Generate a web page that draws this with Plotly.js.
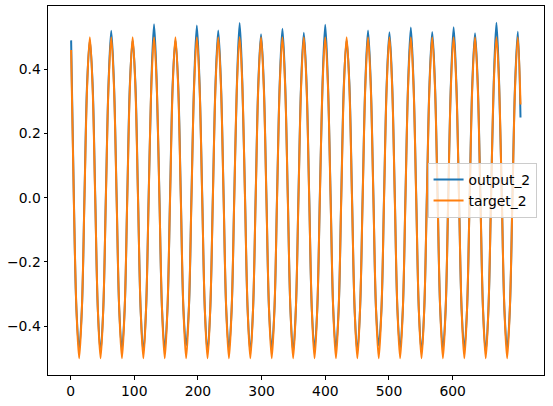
<!DOCTYPE html>
<html>
<head>
<meta charset="utf-8">
<script src="https://cdn.plot.ly/plotly-3.0.1.min.js"></script>
<style>html,body{margin:0;padding:0;background:#fff;}#chart{width:553px;height:406px;}</style>
</head>
<body>
<div id="chart"></div>
<script>
// sample index start and step (x positions of the samples)
const xStart = 0.9;
const xStep = 4.2;

// target_2 (orange) – read at each sample
const target2 = [
  0.46, 0, -0.35, -0.5, -0.35, 0, 0.35, 0.5,
  0.35, 0, -0.35, -0.5, -0.35, 0, 0.35, 0.5,
  0.35, 0, -0.35, -0.5, -0.35, 0, 0.35, 0.5,
  0.35, 0, -0.35, -0.5, -0.35, 0, 0.35, 0.5,
  0.35, 0, -0.35, -0.5, -0.35, 0, 0.35, 0.5,
  0.35, 0, -0.35, -0.5, -0.35, 0, 0.35, 0.5,
  0.35, 0, -0.35, -0.5, -0.35, 0, 0.35, 0.5,
  0.35, 0, -0.35, -0.5, -0.35, 0, 0.35, 0.5,
  0.35, 0, -0.35, -0.5, -0.35, 0, 0.35, 0.5,
  0.35, 0, -0.35, -0.5, -0.35, 0, 0.35, 0.5,
  0.35, 0, -0.35, -0.5, -0.35, 0, 0.35, 0.5,
  0.35, 0, -0.35, -0.5, -0.35, 0, 0.35, 0.5,
  0.35, 0, -0.35, -0.5, -0.35, 0, 0.35, 0.5,
  0.35, 0, -0.35, -0.5, -0.35, 0, 0.35, 0.5,
  0.35, 0, -0.35, -0.5, -0.35, 0, 0.35, 0.5,
  0.35, 0, -0.35, -0.5, -0.35, 0, 0.35, 0.5,
  0.35, 0, -0.35, -0.5, -0.35, 0, 0.35, 0.5,
  0.35, 0, -0.35, -0.5, -0.35, 0, 0.35, 0.5,
  0.35, 0, -0.35, -0.5, -0.35, 0, 0.35, 0.5,
  0.35, 0, -0.35, -0.5, -0.35, 0, 0.35, 0.5,
  0.35, 0, -0.35, -0.5, -0.35, 0, 0.35, 0.5,
  0.29
];

// output_2 (blue) – read at each sample
const output2 = [
  0.49, 0.01, -0.35, -0.47, -0.35, 0.01, 0.36, 0.49,
  0.36, 0.01, -0.35, -0.48, -0.35, 0.01, 0.36, 0.52,
  0.36, 0.01, -0.35, -0.47, -0.35, 0.01, 0.36, 0.49,
  0.36, 0.01, -0.35, -0.48, -0.35, 0.01, 0.36, 0.54,
  0.36, 0.01, -0.35, -0.47, -0.35, 0.01, 0.36, 0.49,
  0.36, 0.01, -0.35, -0.46, -0.35, 0.01, 0.36, 0.536,
  0.36, 0.01, -0.35, -0.48, -0.35, 0.01, 0.36, 0.521,
  0.36, 0.01, -0.35, -0.47, -0.35, 0.01, 0.36, 0.544,
  0.36, 0.01, -0.35, -0.48, -0.35, 0.01, 0.36, 0.509,
  0.36, 0.01, -0.35, -0.47, -0.35, 0.01, 0.36, 0.526,
  0.36, 0.01, -0.35, -0.48, -0.35, 0.01, 0.36, 0.514,
  0.36, 0.01, -0.35, -0.47, -0.35, 0.01, 0.36, 0.539,
  0.36, 0.01, -0.35, -0.47, -0.35, 0.01, 0.36, 0.49,
  0.36, 0.01, -0.35, -0.48, -0.35, 0.01, 0.36, 0.521,
  0.36, 0.01, -0.35, -0.46, -0.35, 0.01, 0.36, 0.515,
  0.36, 0.01, -0.35, -0.47, -0.35, 0.01, 0.36, 0.53,
  0.36, 0.01, -0.35, -0.48, -0.35, 0.01, 0.36, 0.516,
  0.36, 0.01, -0.35, -0.47, -0.35, 0.01, 0.36, 0.531,
  0.36, 0.01, -0.35, -0.47, -0.35, 0.01, 0.36, 0.512,
  0.36, 0.01, -0.35, -0.48, -0.35, 0.01, 0.36, 0.545,
  0.36, 0.01, -0.35, -0.47, -0.35, 0.01, 0.36, 0.517,
  0.25
];

const seriesNames = ["output_2", "target_2"];
const xTickVals = [0, 100, 200, 300, 400, 500, 600];
const xTickText = ["0", "100", "200", "300", "400", "500", "600"];
const yTickVals = [-0.4, -0.2, 0.0, 0.2, 0.4];
const yTickText = ["\u22120.4", "\u22120.2", "0.0", "0.2", "0.4"];

const font = {family: "DejaVu Sans", size: 13.9, color: "#000"};

const traces = [
  {y: output2, x0: xStart, dx: xStep, type: "scatter", mode: "lines", name: seriesNames[0],
   line: {color: "#1f77b4", width: 2, shape: "spline", smoothing: 1}},
  {y: target2, x0: xStart, dx: xStep, type: "scatter", mode: "lines", name: seriesNames[1],
   line: {color: "#ff7f0e", width: 2, shape: "spline", smoothing: 1}}
];

const axisCommon = {
  showgrid: false, zeroline: false, showline: true, mirror: true,
  linecolor: "#000", linewidth: 1, ticks: "outside", ticklen: 3.5,
  tickwidth: 1, tickcolor: "#000", tickfont: font
};

const layout = {
  width: 553, height: 406,
  margin: {l: 48, r: 9, t: 6, b: 31},
  paper_bgcolor: "#fff", plot_bgcolor: "#fff",
  font: font,
  showlegend: true,
  legend: {
    x: 0.985, y: 0.5, xanchor: "right", yanchor: "middle",
    bgcolor: "rgba(255,255,255,0.8)", bordercolor: "#cccccc", borderwidth: 1,
    font: font, itemwidth: 30, tracegroupgap: 0
  },
  xaxis: Object.assign({}, axisCommon, {
    range: [-35.4, 743.4], tickmode: "array", tickvals: xTickVals, ticktext: xTickText
  }),
  yaxis: Object.assign({}, axisCommon, {
    range: [-0.552, 0.597], tickmode: "array", tickvals: yTickVals, ticktext: yTickText
  })
};

Plotly.newPlot("chart", traces, layout, {displayModeBar: false, staticPlot: true});
</script>
</body>
</html>
